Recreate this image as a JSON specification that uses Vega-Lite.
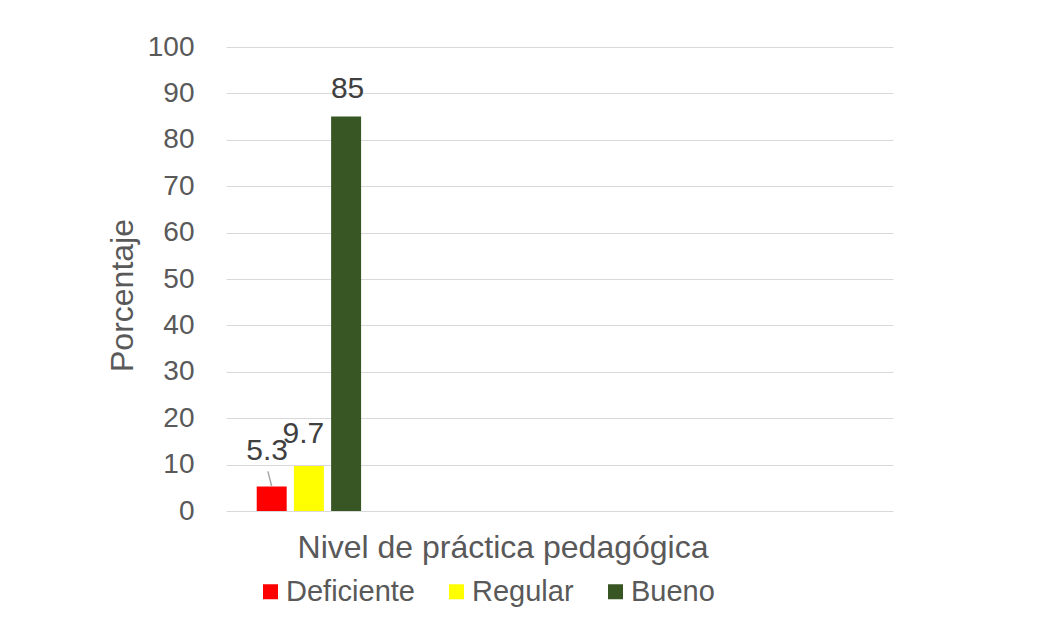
{
  "$schema": "https://vega.github.io/schema/vega-lite/v6.json",
  "width": 667,
  "height": 464,
  "autosize": {"type": "none"},
  "padding": {"left": 226, "top": 47, "right": 164, "bottom": 112},
  "background": "white",
  "config": {"font": "Liberation Sans", "view": {"stroke": null}},
  "data": {
    "values": [
      {"categoria": "Nivel de práctica pedagógica", "nivel": "Deficiente", "porcentaje": 5.3},
      {"categoria": "Nivel de práctica pedagógica", "nivel": "Regular", "porcentaje": 9.7},
      {"categoria": "Nivel de práctica pedagógica", "nivel": "Bueno", "porcentaje": 85}
    ]
  },
  "encoding": {
    "x": {
      "field": "categoria",
      "type": "nominal",
      "scale": {"paddingInner": 0.629, "paddingOuter": 1, "align": 0.0546},
      "axis": {
        "labels": false,
        "ticks": false,
        "domain": false,
        "title": "Nivel de práctica pedagógica",
        "titleFontSize": 32,
        "titleFontWeight": "normal",
        "titleColor": "#595959",
        "titleX": 276.5,
        "titleY": 46,
        "titleAlign": "center",
        "titleBaseline": "alphabetic"
      }
    },
    "xOffset": {
      "field": "nivel",
      "type": "nominal",
      "sort": null,
      "scale": {"domain": ["Deficiente", "Regular", "Bueno"], "paddingInner": 0.194, "paddingOuter": 0}
    },
    "y": {
      "field": "porcentaje",
      "type": "quantitative",
      "scale": {"domain": [0, 100], "nice": false},
      "axis": {
        "values": [0, 10, 20, 30, 40, 50, 60, 70, 80, 90, 100],
        "grid": true,
        "gridColor": "#d9d9d9",
        "gridWidth": 1,
        "domain": false,
        "ticks": false,
        "labelPadding": 32,
        "labelFontSize": 28,
        "labelColor": "#595959",
        "title": "Porcentaje",
        "titleFontSize": 32,
        "titleFontWeight": "normal",
        "titleColor": "#595959",
        "titleAngle": -90,
        "titleX": -94,
        "titleY": 248,
        "titleAlign": "center",
        "titleBaseline": "alphabetic"
      }
    }
  },
  "layer": [
    {
      "mark": {"type": "bar"},
      "encoding": {
        "color": {
          "field": "nivel",
          "type": "nominal",
          "sort": null,
          "scale": {"domain": ["Deficiente", "Regular", "Bueno"], "range": ["#ff0000", "#ffff00", "#375623"]},
          "legend": {
            "orient": "none",
            "direction": "horizontal",
            "legendX": 30,
            "legendY": 530,
            "title": null,
            "symbolType": "square",
            "symbolSize": 225,
            "symbolStrokeWidth": 0,
            "labelFontSize": 29,
            "labelColor": "#595959",
            "labelOffset": 1,
            "columnPadding": 27
          }
        }
      }
    },
    {
      "transform": [{"filter": "datum.nivel === 'Bueno'"}],
      "mark": {"type": "text", "fontSize": 30, "color": "#404040", "baseline": "alphabetic", "dx": 1.5, "dy": -19},
      "encoding": {"text": {"field": "porcentaje", "type": "quantitative"}}
    },
    {
      "transform": [{"filter": "datum.nivel === 'Regular'"}],
      "mark": {"type": "text", "fontSize": 30, "color": "#404040", "baseline": "alphabetic", "dx": -5.5, "dy": -23},
      "encoding": {"text": {"field": "porcentaje", "type": "quantitative"}}
    },
    {
      "transform": [{"filter": "datum.nivel === 'Deficiente'"}],
      "mark": {"type": "text", "fontSize": 30, "color": "#404040", "baseline": "alphabetic", "dx": -4.5, "dy": -26},
      "encoding": {"text": {"field": "porcentaje", "type": "quantitative"}}
    },
    {
      "transform": [{"filter": "datum.nivel === 'Deficiente'"}],
      "mark": {"type": "rule", "color": "#a6a6a6", "strokeWidth": 1.5, "y2Offset": -15, "x2Offset": -41},
      "encoding": {
        "x2": {"field": "categoria"},
        "y2": {"field": "porcentaje"}
      }
    }
  ]
}
